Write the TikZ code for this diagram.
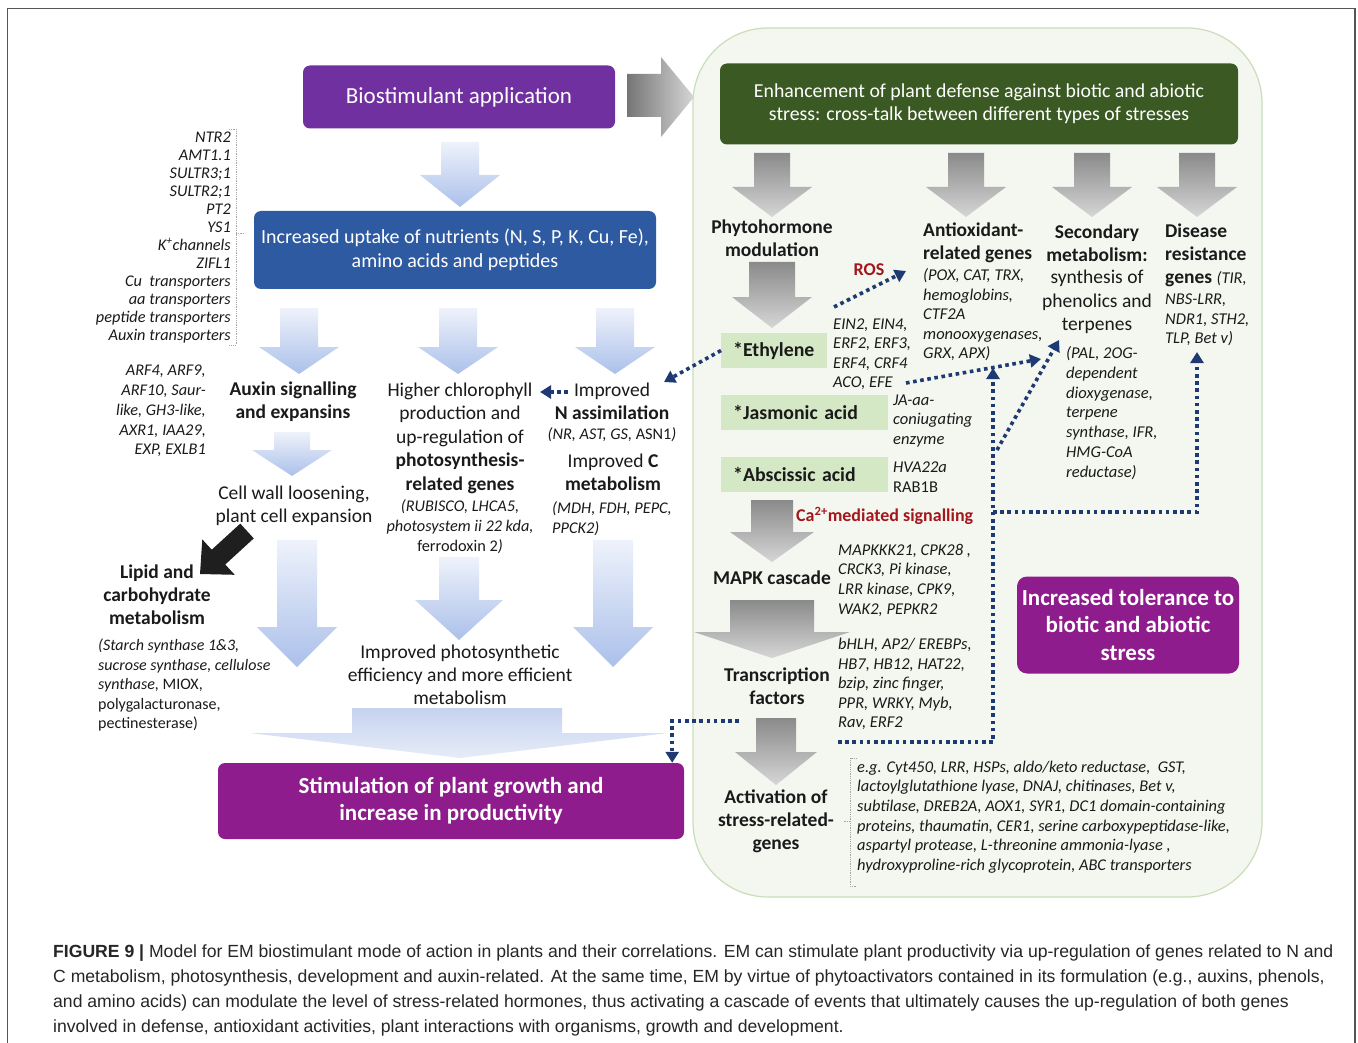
\documentclass[tikz,border=0pt]{standalone}
\usepackage{fontspec}
\setmainfont{Carlito}
\newfontfamily\capfont{Liberation Sans}
\usetikzlibrary{arrows.meta}
\definecolor{txt}{HTML}{1A1A1A}
\definecolor{purpleA}{HTML}{7030A0}
\definecolor{blueBox}{HTML}{2E5AA2}
\definecolor{magentaA}{HTML}{8E1C8C}
\definecolor{dgreen}{HTML}{3B5A23}
\definecolor{lgreen}{HTML}{D5E8C6}
\definecolor{panelfill}{HTML}{F4F7F0}
\definecolor{panelborder}{HTML}{CADDB9}
\definecolor{navy}{HTML}{1F3A72}
\definecolor{dred}{HTML}{A3161C}
\definecolor{bluetop}{HTML}{EEF2FB}
\definecolor{bluebot}{HTML}{ABC0EA}
\definecolor{mergetop}{HTML}{C6D3EF}
\definecolor{mergebot}{HTML}{E6ECF8}
\definecolor{graytop}{HTML}{8A8A8A}
\definecolor{graybot}{HTML}{D6D6D6}
\definecolor{framegray}{HTML}{555555}
\newcommand\fs[2]{\fontsize{#1}{#2}\selectfont}
\newcommand\varr[7]{\shade[#7] ({#1-#3},#2) -- ({#1+#3},#2) -- ({#1+#3},#4) -- ({#1+#5},#4) -- (#1,#6) -- ({#1-#5},#4) -- ({#1-#3},#4) -- cycle;}
\begin{document}
\begin{tikzpicture}[x=1pt,y=-1pt,
  lbl/.style={inner sep=0pt, align=center, text=txt},
  box/.style={inner sep=0pt, rounded corners=7pt, align=center, text=white},
  hbox/.style={fill=lgreen, inner ysep=0pt, inner xsep=12pt, minimum height=35pt, anchor=west, align=left, font=\fs{19.8}{22}\bfseries, text=txt},
  dotc/.style={draw=navy, line width=3.6pt, dash pattern=on 3.6pt off 3.6pt, -{Triangle[width=13pt,length=11pt]}},
  brk/.style={draw=gray!70, line width=0.7pt, dash pattern=on 1pt off 0.8pt},
  bluearr/.style={top color=bluetop, bottom color=bluebot},
  grayarr/.style={top color=graytop, bottom color=graybot}]
\useasboundingbox (0,0) rectangle (1358,1043);
\fill[white] (0,0) rectangle (1358,1043);
\draw[framegray, line width=1.2pt] (7.5,1060) -- (7.5,8.5) -- (1355,8.5) -- (1355,1060);

% right panel
\draw[draw=panelborder, fill=panelfill, line width=1.2pt, rounded corners=75pt] (693,28) rectangle (1262,897);

% big right arrow
\shade[left color=graytop!85!black, right color=graybot] (627,74) -- (661,74) -- (661,57) -- (694,97) -- (661,137) -- (661,117) -- (627,117) -- cycle;

% ---------- left side ----------
\node[box, fill=purpleA, minimum width=312pt, minimum height=63pt, font=\fs{23}{26}] (bio) at (459,97) {Biostimulant application};
\varr{460}{142}{19}{175}{40}{207}{bluearr}
\node[box, fill=blueBox, minimum width=402pt, minimum height=78pt, font=\fs{20}{23.5}] (nut) at (455,250) {Increased uptake of nutrients (N, S, P, K, Cu, Fe),\\amino acids and peptides};

\node[lbl, align=right, anchor=east, font=\fs{16.3}{18}\itshape] (ugenes) at (231,238) {NTR2\\AMT1.1\\SULTR3;1\\SULTR2;1\\PT2\\YS1\\K\textsuperscript{+}channels\\ZIFL1\\Cu\ \ transporters\\aa transporters\\peptide transporters\\Auxin transporters};
\draw[brk] (229,129) -- (236,129) -- (236,345) -- (229,345);
\draw[brk] (236,233) -- (244,233);

\varr{299}{308}{19}{347}{40}{374}{bluearr}
\varr{458}{308}{19}{347}{40}{374}{bluearr}
\varr{615}{308}{19}{347}{40}{374}{bluearr}

\node[lbl, align=right, anchor=east, font=\fs{16.3}{19.8}\itshape] (arf) at (206,411) {ARF4, ARF9,\\ARF10, Saur-\\like, GH3-like,\\AXR1, IAA29,\\EXP, EXLB1};
\node[lbl, font=\fs{19.5}{23}\bfseries] (auxin) at (293,402) {Auxin signalling\\and expansins};
\varr{292}{432}{18}{450}{40}{476}{bluearr}
\node[lbl, font=\fs{19.5}{23}] (cellwall) at (294,506) {Cell wall loosening,\\plant cell expansion};

\node[lbl, font=\fs{19.5}{23.5}] (chloro) at (460,438) {Higher chlorophyll\\production and\\up-regulation of\\\textbf{photosynthesis-}\\\textbf{related genes}};
\node[lbl, font=\fs{16.3}{20}] (chlorog) at (460,527) {\textit{(RUBISCO, LHCA5,}\\\textit{photosystem ii 22 kda,}\\ferrodoxin 2\textit{)}};

\node[lbl, font=\fs{19.5}{23}] (nimpr) at (612,401) {Improved\\\textbf{N assimilation}};
\node[lbl, font=\fs{16.3}{18}] (ngenes) at (612,435) {\textit{(NR, AST, GS,} ASN1\textit{)}};
\node[lbl, font=\fs{19.5}{23}] (cimpr) at (613,472) {Improved \textbf{C}\\\textbf{metabolism}};
\node[lbl, align=left, anchor=west, font=\fs{16.3}{20}\itshape] (cgenes) at (552,519) {(MDH, FDH, PEPC,\\PPCK2)};

\coordinate (nimprL) at (568,392);
\coordinate (chloroR) at (540,392);
\draw[dotc] (nimprL) -- (chloroR);

% black arrow
\fill[black!88] (253.75,538.4) -- (225.25,564.5) -- (234.7,574.8) -- (200,574) -- (202.3,539.4) -- (211.75,549.7) -- (240.25,523.6) -- cycle;

\node[lbl, font=\fs{19.5}{23}\bfseries] (lipid) at (157,595) {Lipid and\\carbohydrate\\metabolism};
\node[lbl, align=left, anchor=west, font=\fs{16}{19.5}] (starch) at (98,685) {\textit{(Starch synthase 1\&3,}\\\textit{sucrose synthase, cellulose}\\\textit{synthase,} MIOX,\\polygalacturonase,\\pectinesterase)};

\varr{297}{540}{20}{627}{40}{667}{bluearr}
\varr{459}{557}{20}{600}{44}{640}{bluearr}
\varr{613}{540}{20}{627}{40}{667}{bluearr}

\node[lbl, font=\fs{19.5}{23}] (photo) at (460,675) {Improved photosynthetic\\efficiency and more efficient\\metabolism};

\shade[top color=mergetop, bottom color=mergebot] (352,708) -- (562,708) -- (562,733) -- (668,733) -- (460,758) -- (250,733) -- (352,733) -- cycle;

\node[box, fill=magentaA, minimum width=466pt, minimum height=76pt, font=\fs{23}{27}\bfseries] (stim) at (451,801) {Stimulation of plant growth and\\increase in productivity};

% ---------- right side ----------
\node[box, fill=dgreen, minimum width=518pt, minimum height=81pt, font=\fs{19.8}{23}] (enh) at (979,104) {Enhancement of plant defense against biotic and abiotic\\stress: cross-talk between different types of stresses};

\varr{772}{153}{18}{187}{40}{217}{grayarr}
\varr{966}{153}{18}{187}{40}{217}{grayarr}
\varr{1092}{153}{18}{187}{40}{217}{grayarr}
\varr{1197}{153}{18}{187}{40}{217}{grayarr}

\node[lbl, font=\fs{19.5}{22.5}\bfseries] (phyto) at (772,238) {Phytohormone\\modulation};
\varr{772}{262}{23}{297}{40}{328}{grayarr}

\node[hbox, text width=82pt] (eth) at (721,350.5) {*Ethylene};
\node[hbox, text width=143pt] (jas) at (721,412.5) {*Jasmonic acid};
\node[hbox, text width=143pt] (aba) at (721,474.5) {*Abscissic acid};

\coordinate (ntip) at (664,382);
\draw[dotc] (eth.west) -- (ntip);

\node[lbl, font=\fs{18}{18}\bfseries, text=dred] (ros) at (869,270) {ROS};
\coordinate (rosA) at (834,307);
\coordinate (rosB) at (906,271);
\draw[dotc] (rosA) -- (rosB);

\node[lbl, align=left, anchor=west, font=\fs{16.5}{19.5}\itshape] (ein) at (833,354) {EIN2, EIN4,\\ERF2, ERF3,\\ERF4, CRF4\\ACO, EFE};
\coordinate (einA) at (906,383);
\coordinate (einB) at (1041,359);
\draw[dotc] (einA) -- (einB);

\node[lbl, align=left, anchor=west, font=\fs{19.5}{22.5}\bfseries] (antiox) at (923,243) {Antioxidant-\\related genes};
\node[lbl, align=left, anchor=west, font=\fs{16.5}{19.5}\itshape] (antioxg) at (923,315) {(POX, CAT, TRX,\\hemoglobins,\\CTF2A\\monooxygenases,\\GRX, APX)};

\node[lbl, font=\fs{19.5}{22.5}\bfseries] (sec) at (1097,243) {Secondary\\metabolism:};
\node[lbl, font=\fs{19.5}{23.5}] (sect) at (1097,302) {synthesis of\\phenolics and\\terpenes};
\node[lbl, align=left, anchor=west, font=\fs{16.5}{19.8}\itshape] (secg) at (1066,413) {(PAL, 2OG-\\dependent\\dioxygenase,\\terpene\\synthase, IFR,\\HMG-CoA\\reductase)};

\node[lbl, align=left, anchor=west, font=\fs{19.5}{23}\bfseries] (dis) at (1165,255) {Disease\\resistance\\genes {\mdseries\itshape\fs{16.5}{23}(TIR,}};
\node[lbl, align=left, anchor=west, font=\fs{16.5}{19.7}\itshape] (disg) at (1165,320) {NBS-LRR,\\NDR1, STH2,\\TLP, Bet v)};

\node[lbl, align=left, anchor=west, font=\fs{16.5}{19.5}\itshape] (jag) at (893,421) {JA-aa-\\coniugating\\enzyme};
\node[lbl, align=left, anchor=west, font=\fs{16.5}{20}] (abag) at (893,477) {\textit{HVA22a}\\RAB1B};

% dotted network
\coordinate (tfline) at (838,742);
\coordinate (j1) at (993,742);
\coordinate (antioxtip) at (993,368);
\draw[dotc] (tfline) -- (j1) -- (antioxtip);
\coordinate (j2) at (993,512);
\coordinate (k2) at (1197,512);
\coordinate (distip) at (1197,352);
\draw[dotc] (j2) -- (k2) -- (distip);
\coordinate (j3) at (997,450);
\coordinate (sectip) at (1059,340);
\draw[dotc] (j3) -- (sectip);

\varr{772}{500}{21}{532}{42}{562}{grayarr}
\node[lbl, anchor=west, font=\fs{18}{18}\bfseries, text=dred] (ca) at (796,516) {Ca\textsuperscript{2+}mediated signalling};

\node[lbl, font=\fs{19.5}{20}\bfseries] (mapk) at (772,578) {MAPK cascade};
\node[lbl, align=left, anchor=west, font=\fs{16.5}{19.7}\itshape] (mapkg) at (838,580) {MAPKKK21, CPK28 ,\\CRCK3, Pi kinase,\\LRR kinase, CPK9,\\WAK2, PEPKR2};

\varr{772}{600}{42}{632}{78}{658}{grayarr}

\node[lbl, font=\fs{19.5}{23}\bfseries] (tf) at (777,686) {Transcription\\factors};
\node[lbl, align=left, anchor=west, font=\fs{16.5}{19.5}\itshape] (tfg) at (838,684) {bHLH, AP2/ EREBPs,\\HB7, HB12, HAT22,\\bzip, zinc finger,\\PPR, WRKY, Myb,\\Rav, ERF2};

\coordinate (tfc) at (739,721);
\draw[dotc] (tfc) -| ([xshift=-12pt]stim.north east);

\varr{776}{718}{20}{752}{41}{785}{grayarr}
\node[lbl, font=\fs{19.5}{23}\bfseries] (act) at (776,821) {Activation of\\stress-related-\\genes};
\draw[brk] (857,758) -- (850,758) -- (850,886) -- (857,886);
\draw[brk] (850,821) -- (843,821);
\node[lbl, align=left, anchor=west, font=\fs{16.4}{19.6}\itshape] (stg) at (857,817) {e.g. Cyt450, LRR, HSPs, aldo/keto reductase,\ \ GST,\\lactoylglutathione lyase, DNAJ, chitinases, Bet v,\\subtilase, DREB2A, AOX1, SYR1, DC1 domain-containing\\proteins, thaumatin, CER1, serine carboxypeptidase-like,\\aspartyl protease, L-threonine ammonia-lyase ,\\hydroxyproline-rich glycoprotein, ABC transporters};

\node[box, fill=magentaA, rounded corners=10pt, minimum width=222pt, minimum height=97pt, font=\fs{23}{27.5}\bfseries] (tol) at (1128,625) {Increased tolerance to\\biotic and abiotic\\stress};

% caption
\node[anchor=base west, inner sep=0pt, font=\capfont\fs{17.6}{20}, text=black!85] (cap1) at (53,957) {\textbf{FIGURE 9 |} Model for EM biostimulant mode of action in plants and their correlations. EM can stimulate plant productivity via up-regulation of genes related to N and};
\node[anchor=base west, inner sep=0pt, font=\capfont\fs{17.6}{20}, text=black!85] (cap2) at (53,982) {C metabolism, photosynthesis, development and auxin-related. At the same time, EM by virtue of phytoactivators contained in its formulation (e.g., auxins, phenols,};
\node[anchor=base west, inner sep=0pt, font=\capfont\fs{17.6}{20}, text=black!85] (cap3) at (53,1007) {and amino acids) can modulate the level of stress-related hormones, thus activating a cascade of events that ultimately causes the up-regulation of both genes};
\node[anchor=base west, inner sep=0pt, font=\capfont\fs{17.6}{20}, text=black!85] (cap4) at (53,1032) {involved in defense, antioxidant activities, plant interactions with organisms, growth and development.};
\end{tikzpicture}
\end{document}
